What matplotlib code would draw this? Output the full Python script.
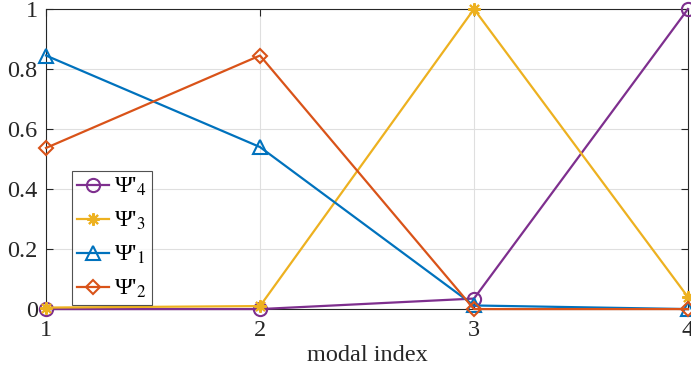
import matplotlib
matplotlib.use("Agg")
import matplotlib.pyplot as plt

plt.rcParams['font.family'] = ['Liberation Serif', 'DejaVu Serif']
plt.rcParams['mathtext.fontset'] = 'stix'

modal_index = [1, 2, 3, 4]
psi4 = [0.0, 0.0, 0.035, 1.0]
psi3 = [0.005, 0.01, 1.0, 0.04]
psi1 = [0.845, 0.54, 0.012, 0.0]
psi2 = [0.537, 0.845, 0.0, 0.0]

series = [
    ("Ψ'$_4$", psi4, '#7E2F8E', 'o', 9.5),
    ("Ψ'$_3$", psi3, '#EDB120', (8, 2, 0), 9),
    ("Ψ'$_1$", psi1, '#0072BD', '^', 9.5),
    ("Ψ'$_2$", psi2, '#D95319', 'D', 7.5),
]

fig = plt.figure(figsize=(6.91, 3.76), dpi=100)
ax = fig.add_axes([0.0666, 0.178, 0.929, 0.798])

for label, vals, color, marker, ms in series:
    ax.plot(modal_index, vals, color=color, lw=1.6, marker=marker,
            markersize=ms, markerfacecolor='none', markeredgewidth=1.5,
            label=label, clip_on=False, zorder=3)

ax.set_xlim(1, 4)
ax.set_ylim(0, 1)
ax.set_xticks([1, 2, 3, 4])
ax.set_yticks([0, 0.2, 0.4, 0.6, 0.8, 1])
ax.set_yticklabels(['0', '0.2', '0.4', '0.6', '0.8', '1'])
ax.grid(True, color='#dfdfdf', lw=0.8)
ax.set_axisbelow(True)
ax.tick_params(direction='in', length=5, width=0.8, colors='#262626',
               labelsize=17.5, top=True, right=True)
ax.tick_params(axis='y', pad=6)
ax.tick_params(axis='x', pad=8)
for s in ax.spines.values():
    s.set_color('#262626')
    s.set_linewidth(0.8)
ax.set_xlabel('modal index', fontsize=17.5, color='#262626', labelpad=3)

leg = ax.legend(loc='lower left', bbox_to_anchor=(0.04, 0.013), fontsize=17.5,
                frameon=True, fancybox=False, edgecolor='#262626',
                handlelength=1.35, handletextpad=0.2, borderpad=0.2,
                labelspacing=0.48, borderaxespad=0)
leg.get_frame().set_linewidth(0.8)

fig.savefig('out.png', dpi=100)
